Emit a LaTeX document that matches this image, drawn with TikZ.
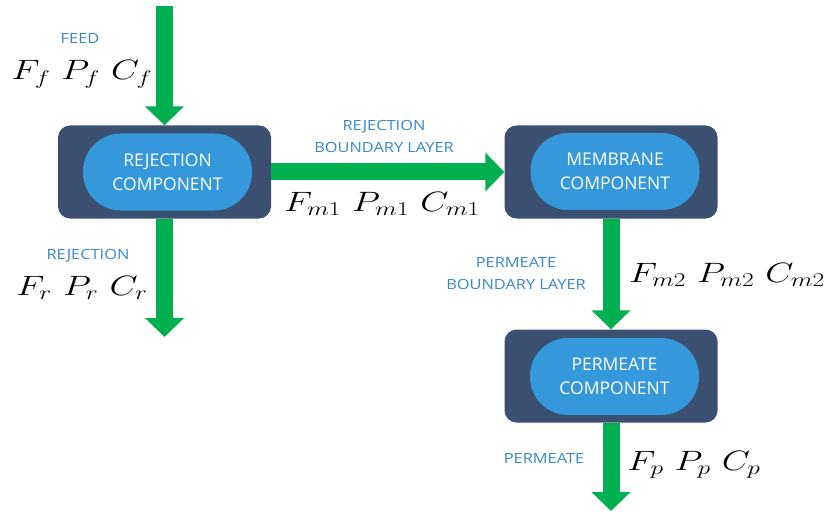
\RequirePackage{fix-cm}
\documentclass[tikz,border=0pt]{standalone}
\usepackage{fontspec}
\usepackage{graphicx}
\setsansfont{Open Sans}
\newfontfamily\lblfont[FakeStretch=1.17]{Open Sans}
\usetikzlibrary{arrows.meta}
\definecolor{boxdark}{RGB}{59,79,112}
\definecolor{innerblue}{RGB}{52,152,219}
\definecolor{flowgreen}{RGB}{0,176,80}
\definecolor{lblblue}{RGB}{52,136,204}
\newcommand{\wmath}[1]{\scalebox{1.3}[1]{$#1$}}
\begin{document}
\begin{tikzpicture}[x=1pt,y=-1pt,
  outerbox/.style={fill=boxdark, rounded corners=12pt, minimum width=213pt, minimum height=93pt, inner sep=0pt},
  innerbox/.style={fill=innerblue, rounded corners=38pt, minimum width=169pt, minimum height=77pt, text=white, font=\sffamily\fontsize{17.5}{24}\selectfont, align=center, inner sep=0pt},
  flow/.style={draw=flowgreen, line width=17pt, -{Triangle[width=38pt,length=19pt]}},
  lbl/.style={text=lblblue, font=\lblfont\fontsize{14}{22}\selectfont, align=center, inner sep=0pt},
  mathlbl/.style={font=\fontsize{28}{30}\selectfont, inner sep=0pt, anchor=base}]
\useasboundingbox (0,0) rectangle (829,513);
% boxes
\node[outerbox] (rej) at (164.5,172) {};
\node[innerbox] (rejin) at (167.5,172) {REJECTION\\COMPONENT};
\node[outerbox] (mem) at (611,172) {};
\node[innerbox] (memin) at (615,171.5) {MEMBRANE\\COMPONENT};
\node[outerbox] (per) at (611,376) {};
\node[innerbox] (perin) at (614.5,376.5) {PERMEATE\\COMPONENT};
% flows
\coordinate (feedin) at (164.5,6);
\coordinate (rejout) at (164.5,337);
\coordinate (perout) at (611,511);
\draw[flow] (feedin) -- (rej.north);
\draw[flow] (rej.south) -- (rejout);
\draw[flow] (rej.east) -- (mem.west);
\draw[flow] (mem.south) -- (per.north);
\draw[flow] (per.south) -- (perout);
% labels
\node[lbl] (feedlbl) at (80,39) {FEED};
\node[mathlbl] (feedvars) at (82,80) {\wmath{F_f\ P_f\ C_f}};
\node[lbl] (rejlbl) at (88,256) {REJECTION};
\node[mathlbl] (rejvars) at (82,295) {\wmath{F_r\ P_r\ C_r}};
\node[lbl] (rbllbl) at (384,136) {REJECTION\\BOUNDARY LAYER};
\node[mathlbl] (m1vars) at (382,211) {\wmath{F_{m1}\ P_{m1}\ C_{m1}}};
\node[lbl] (pbllbl) at (516,274) {PERMEATE\\BOUNDARY LAYER};
\node[mathlbl] (m2vars) at (727,282) {\wmath{F_{m2}\ P_{m2}\ C_{m2}}};
\node[lbl] (perlbl) at (544,458) {PERMEATE};
\node[mathlbl] (pvars) at (694,470) {\wmath{F_p\ P_p\ C_p}};
\end{tikzpicture}
\end{document}
